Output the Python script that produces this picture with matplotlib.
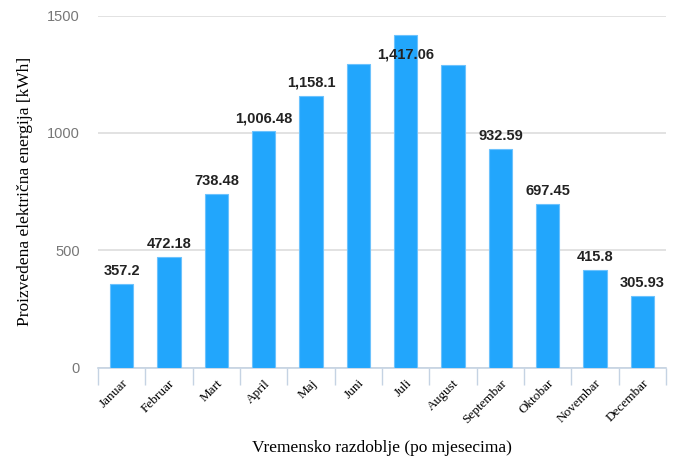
import matplotlib
matplotlib.use('Agg')
import matplotlib.pyplot as plt
import numpy as np

months = ['Januar', 'Februar', 'Mart', 'April', 'Maj', 'Juni', 'Juli',
          'August', 'Septembar', 'Oktobar', 'Novembar', 'Decembar']
energy = [357.2, 472.18, 738.48, 1006.48, 1158.1, 1293, 1417.06,
          1288, 932.59, 697.45, 415.8, 305.93]
# labels shown in the original (Juni and August have none)
labels = ['357.2', '472.18', '738.48', '1,006.48', '1,158.1', None, '1,417.06',
          None, '932.59', '697.45', '415.8', '305.93']

fig = plt.figure(figsize=(6.79, 4.59), dpi=100)
ax = fig.add_axes([0.1443, 0.199, 0.8367, 0.767])

x = np.arange(len(months))
ax.bar(x, energy, width=0.49, color='#22a6fc', edgecolor='#6cc2fd', linewidth=0.8, zorder=3)

for xi, v, lab in zip(x, energy, labels):
    if lab is None:
        continue
    yl = min(v + 55, 1335)
    ax.text(xi, yl, lab, ha='center', va='center', fontsize=10.5, fontweight='bold',
            family='Liberation Sans', color='#222222', zorder=4)

ax.set_xlim(-0.5, len(months) - 0.5)
ax.set_ylim(0, 1500)
ax.set_yticks([0, 500, 1000, 1500])
ax.yaxis.grid(True, color='#dddddd', linewidth=1.2, zorder=0)
ax.tick_params(axis='y', length=0, pad=13, labelsize=10.5, labelcolor='#777777')
for t in ax.get_yticklabels():
    t.set_family('Liberation Sans')

# ticks at category boundaries
ax.set_xticks(np.arange(-0.5, len(months), 1.0))
ax.set_xticklabels([])
ax.tick_params(axis='x', which='major', length=12, color='#c5d3e3', width=1)
ax.set_xticks(x, minor=True)
ax.set_xticklabels(months, minor=True, rotation=45, ha='right', rotation_mode='anchor',
                   family='Liberation Serif', fontsize=9.5)
ax.tick_params(axis='x', which='minor', length=0, pad=7)

for s in ['top', 'right', 'left']:
    ax.spines[s].set_visible(False)
ax.spines['bottom'].set_color('#c5d3e3')
ax.spines['bottom'].set_linewidth(1.2)

ax.set_xlabel('Vremensko razdoblje (po mjesecima)', family='Liberation Serif', fontsize=12.5, labelpad=10)
ax.set_ylabel('Proizvedena električna energija [kWh]', family='Liberation Serif', fontsize=12.5, labelpad=10)

fig.savefig('out.png', dpi=100)
